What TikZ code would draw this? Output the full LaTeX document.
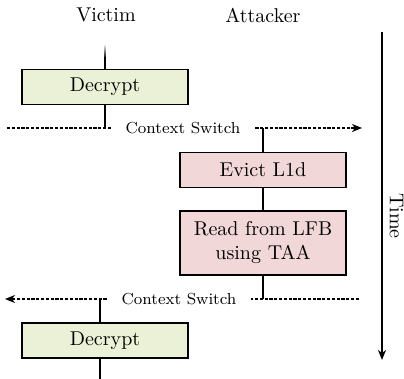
\documentclass[tikz,border=0pt]{standalone}
\usetikzlibrary{arrows.meta,fadings}
\definecolor{vicgreen}{RGB}{235,241,214}
\definecolor{attpink}{RGB}{242,215,217}
\begin{document}
\begin{tikzpicture}[x=0.5pt,y=-0.5pt,
  box/.style={draw, thick, minimum width=83pt, inner sep=0pt, align=center},
  vbox/.style={box, fill=vicgreen, minimum height=17.5pt},
  abox/.style={box, fill=attpink},
  conn/.style={line width=1.3pt},
  cs/.style={dash pattern=on 1.6pt off 0.8pt, thick},
  cslabel/.style={font=\footnotesize, inner xsep=7.3pt, inner ysep=2pt},
  tip/.style={-{Stealth[length=5pt,width=4pt,inset=1.5pt]}},
  lbl/.style={font=\normalsize}]
\useasboundingbox (0,0) rectangle (404,379);

% headings
\node[lbl] (victim) at (106,15) {Victim};
\node[lbl] (attacker) at (263,15) {Attacker};

% boxes
\node[vbox] (dec1) at (105,87) {Decrypt};
\node[abox, minimum height=17.5pt] (evict) at (263,170) {Evict L1d};
\node[abox, minimum height=32pt] (read) at (263,243) {Read from LFB\\using TAA};
\node[vbox] (dec2) at (105,340.5) {Decrypt};

% context switch labels
\node[cslabel] (cs1) at (183,128) {Context Switch};
\node[cslabel] (cs2) at (179,299) {Context Switch};

% coordinates
\coordinate (vtop) at (105,45);
\coordinate (vmid) at (105,57);
\coordinate (v1) at (105,128);
\coordinate (cs1l) at (7,128);
\coordinate (cs1r) at (362,128);
\coordinate (a1) at (263,128);
\coordinate (a2) at (263,299);
\coordinate (cs2l) at (5,299);
\coordinate (cs2r) at (359,299);
\coordinate (v2) at (100,299);
\coordinate (v2b) at (100,323);
\coordinate (v3) at (100,358);
\coordinate (vbot) at (100,379);
\coordinate (ttop) at (382,32);
\coordinate (tbot) at (382,360);

% victim timeline
\draw[conn, path fading=north] (vtop) -- (vmid);
\draw[conn] (vmid) -- (dec1.north);
\draw[conn] (dec1.south) -- (v1);
\draw[conn] (v2) -- (v2b);
\draw[conn] (v3) -- (vbot);

% attacker timeline
\draw[conn] (a1) -- (evict.north);
\draw[conn] (evict.south) -- (read.north);
\draw[conn] (read.south) -- (a2);

% context switches
\draw[cs] (cs1l) -- (cs1.west);
\draw[cs, tip] (cs1.east) -- (cs1r);
\draw[cs] (cs2r) -- (cs2.east);
\draw[cs, tip] (cs2.west) -- (cs2l);

% time axis
\draw[thick, tip] (ttop) -- (tbot);
\node[lbl, rotate=-90] (time) at (396.5,216) {Time};
\end{tikzpicture}
\end{document}
